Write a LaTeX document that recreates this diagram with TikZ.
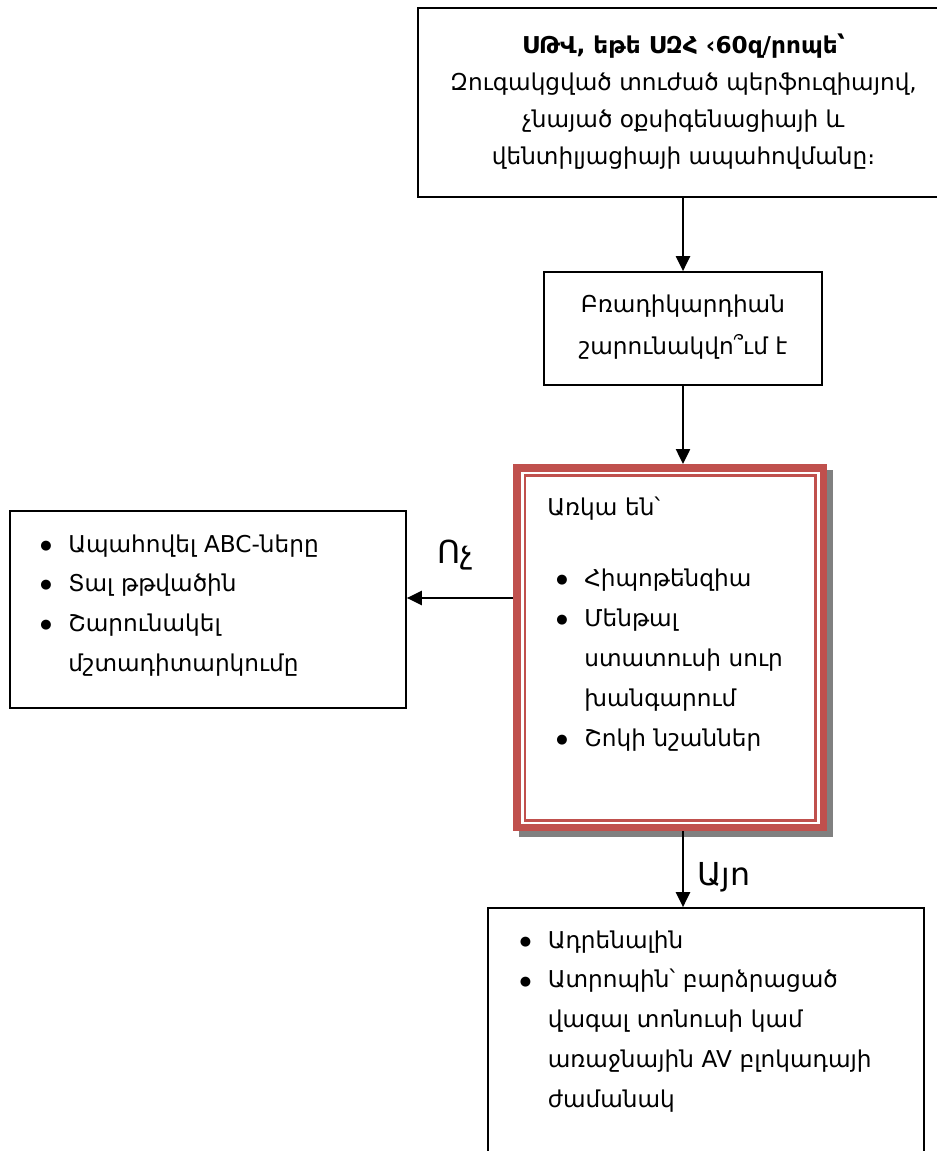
\documentclass[tikz,border=0pt]{standalone}
\usepackage{fontspec}
\setmainfont{DejaVu Sans}
\usetikzlibrary{arrows.meta,positioning,calc,fit,backgrounds}
\definecolor{frameRed}{RGB}{192,80,77}
\definecolor{shadowGray}{RGB}{128,128,128}
\newcommand\blt[1]{\noindent\hangindent=15.9pt\hangafter=1%
  \makebox[15.9pt][l]{\raisebox{1.6pt}{\fontsize{7.4}{7}\selectfont●}}#1\par}
\tikzset{
  box/.style={draw,line width=1pt,inner sep=0pt},
  redbox/.style={draw=frameRed,fill=white,line width=4.5pt,inner sep=0pt},
  txt/.style={anchor=base west,inner sep=0pt,text width=#1,font=\fontsize{13.2}{22.7}\selectfont},
  txt/.default=7cm,
  ctxt/.style={anchor=north,inner sep=0pt,align=center,font=\fontsize{13.2}{#1}\selectfont},
  lbl/.style={anchor=base west,inner sep=0pt,font=\fontsize{18}{20}\selectfont},
  arr/.style={-{Triangle[length=8.5pt,width=8pt]},line width=1.1pt},
}

\begin{document}
\begin{tikzpicture}[x=0.02cm,y=-0.02cm]
  \useasboundingbox (0,0) rectangle (936,1151);
  % boxes, coordinates in pixels from the top left
  \node[box,fit={(418,8) (949,197)}] (cpr) {};
  \node[box,fit={(544,272) (822,385)}] (brady) {};
  \node[redbox,fit={(517,468) (823.5,827.5)}] (signs) {};
  \begin{scope}[on background layer]
    \fill[shadowGray] ($(signs.north west)+(5.7,5.7)$) rectangle ($(signs.south east)+(5.7,5.7)$);
  \end{scope}
  \draw[frameRed,line width=1.4pt] ($(signs.north west)+(11.7,11.3)$) rectangle ($(signs.south east)+(-12,-11)$);
  \node[box,fit={(10,511) (406,708)}] (support) {};
  \node[box,fit={(488,908) (924,1170)}] (meds) {};

  % texts
  \node[ctxt=21] (cprTxt) at (683.5,34)
    {\textbf{ՍԹՎ, եթե ՍԶՀ ‹60զ/րոպե՝}\\Զուգակցված տուժած պերֆուզիայով,\\չնայած օքսիգենացիայի և\\վենտիլյացիայի ապահովմանը։};
  \node[ctxt=23.8] (bradyTxt) at (683,295) {Բռադիկարդիան\\շարունակվո՞ւմ է};
  \node[txt=6cm] (signsTxt) at (556,515)
    {\noindent\hspace*{-5.1pt}Առկա են՝\par\vspace{18pt}\blt{Հիպոթենզիա}\blt{Մենթալ\newline ստատուսի սուր\newline խանգարում}\blt{Շոկի նշաններ}};
  \node[txt=7.5cm,font=\fontsize{13.2}{22.6}\selectfont] (supportTxt) at (40,552)
    {\blt{Ապահովել ABC-ները}\blt{Տալ թթվածին}\blt{Շարունակել\newline մշտադիտարկումը}};
  \node[txt=8cm] (medsTxt) at (519.5,948)
    {\blt{Ադրենալին}\blt{Ատրոպին՝ բարձրացած\newline վագալ տոնուսի կամ\newline առաջնային AV բլոկադայի\newline ժամանակ}};

  % connectors
  \coordinate (noY) at (0,598);
  \draw[arr] (brady.north |- cpr.south) -- (brady.north);
  \draw[arr] (brady.south) -- (brady.south |- signs.north);
  \draw[arr] (signs.west |- noY) -- (support.east |- noY);
  \draw[arr] (brady.south |- signs.south) -- (brady.south |- meds.north);
  \node[lbl] (no) at (437,563) {Ոչ};
  \node[lbl] (yes) at (697,885) {Այո};
\end{tikzpicture}
\end{document}
